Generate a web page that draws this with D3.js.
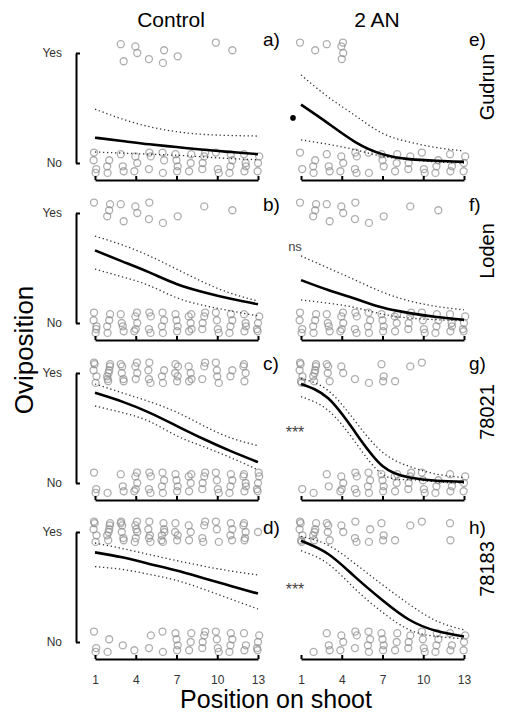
<!DOCTYPE html>
<html>
<head>
<meta charset="utf-8">
<script src="https://cdn.jsdelivr.net/npm/d3@7"></script>
<style>
  body { margin: 0; background: #fff; }
  text { font-family: "Liberation Sans", Arial, sans-serif; }
</style>
</head>
<body>
<div id="chart"></div>
<script>
// ---- data ----
const cultivars = ["Gudrun", "Loden", "78021", "78183"];
const treatments = ["Control", "2 AN"];
const panelLetters = [["a)", "e)"], ["b)", "f)"], ["c)", "g)"], ["d)", "h)"]];
const sigLabels = ["•", "ns", "***", "***"];
const sigLevels = [0.41, 0.69, 0.50, 0.52];

const positions = [1, 2, 3, 4, 5, 6, 7, 8, 9, 10, 11, 12, 13];
const tickValues = [1, 4, 7, 10, 13];
const fitPositions = [1, 3, 5, 7, 9, 11, 13];

// counts of observed "Yes" / "No" shoots per position
const yesControl = [
  [0, 0, 2, 2, 1, 2, 1, 0, 0, 1, 1, 0, 0],
  [1, 3, 2, 2, 2, 1, 1, 0, 1, 0, 1, 0, 0],
  [5, 7, 5, 4, 4, 3, 5, 4, 3, 4, 2, 4, 0],
  [5, 6, 6, 6, 5, 6, 4, 3, 4, 3, 4, 5, 1]
];
const noControl = [
  [4, 3, 3, 3, 3, 3, 4, 3, 4, 3, 4, 4, 3],
  [5, 4, 4, 5, 4, 4, 4, 5, 4, 4, 4, 4, 4],
  [3, 1, 3, 5, 4, 4, 4, 4, 4, 4, 4, 5, 5],
  [3, 2, 1, 1, 2, 2, 4, 3, 4, 4, 4, 3, 4]
];
const yesAN = [
  [1, 1, 1, 4, 0, 0, 0, 0, 0, 0, 0, 0, 0],
  [1, 3, 2, 2, 2, 1, 1, 0, 1, 0, 1, 0, 0],
  [6, 6, 4, 2, 1, 1, 3, 1, 1, 1, 0, 0, 0],
  [6, 5, 4, 2, 3, 2, 3, 1, 1, 1, 0, 2, 0]
];
const noAN = [
  [2, 3, 3, 3, 4, 2, 3, 3, 3, 3, 3, 3, 3],
  [4, 4, 4, 5, 4, 4, 4, 4, 4, 4, 4, 4, 4],
  [1, 1, 2, 4, 4, 4, 4, 4, 4, 4, 3, 3, 3],
  [0, 1, 3, 3, 3, 4, 4, 3, 3, 4, 4, 3, 3]
];

// fitted probability and 95% band at fitPositions
const fitControl = [
  [0.23, 0.20, 0.17, 0.145, 0.12, 0.10, 0.08],
  [0.66, 0.56, 0.46, 0.355, 0.28, 0.22, 0.17],
  [0.82, 0.74, 0.64, 0.52, 0.40, 0.29, 0.19],
  [0.815, 0.77, 0.71, 0.65, 0.58, 0.51, 0.44]
];
const upperControl = [
  [0.49, 0.40, 0.33, 0.285, 0.26, 0.25, 0.245],
  [0.79, 0.71, 0.61, 0.49, 0.37, 0.27, 0.20],
  [0.90, 0.82, 0.74, 0.645, 0.52, 0.41, 0.34],
  [0.90, 0.85, 0.795, 0.74, 0.69, 0.645, 0.61]
];
const lowerControl = [
  [0.10, 0.09, 0.08, 0.07, 0.055, 0.04, 0.03],
  [0.49, 0.42, 0.34, 0.23, 0.16, 0.11, 0.065],
  [0.70, 0.64, 0.56, 0.43, 0.33, 0.23, 0.12],
  [0.685, 0.66, 0.615, 0.56, 0.48, 0.39, 0.30]
];
const fitAN = [
  [0.53, 0.36, 0.19, 0.08, 0.035, 0.02, 0.01],
  [0.39, 0.30, 0.22, 0.14, 0.09, 0.055, 0.03],
  [0.90, 0.77, 0.46, 0.155, 0.05, 0.02, 0.01],
  [0.92, 0.80, 0.59, 0.38, 0.20, 0.10, 0.05]
];
const upperAN = [
  [0.80, 0.60, 0.43, 0.27, 0.19, 0.14, 0.11],
  [0.61, 0.50, 0.39, 0.28, 0.20, 0.15, 0.12],
  [0.95, 0.84, 0.56, 0.28, 0.15, 0.08, 0.05],
  [0.96, 0.88, 0.71, 0.52, 0.34, 0.19, 0.11]
];
const lowerAN = [
  [0.21, 0.17, 0.12, 0.06, 0.03, 0.01, 0.0],
  [0.21, 0.18, 0.14, 0.08, 0.045, 0.03, 0.02],
  [0.785, 0.66, 0.37, 0.08, 0.03, 0.01, 0.0],
  [0.83, 0.71, 0.48, 0.27, 0.11, 0.05, 0.03]
];

// ---- layout ----
const width = 523, height = 715;
const rowTops = [53, 213, 373, 532];
const rowH = 110;
const colRanges = [[95, 258], [301, 464]];
const jitterY = [0, -0.6, 0.55, -0.95, 0.9, -0.25, 0.3, -0.8, 0.75];
const jitterX = [0, 1.2, -1.0, 0.6, -1.4, 1.5, -0.4];

const svg = d3.select("#chart").append("svg")
  .attr("width", width)
  .attr("height", height)
  .style("background", "#fff");

const line = (x, y) => d3.line()
  .x((d, i) => x(fitPositions[i]))
  .y(d => y(d))
  .curve(d3.curveNatural);

const panels = [
  { yes: yesControl, no: noControl, fit: fitControl, up: upperControl, lo: lowerControl },
  { yes: yesAN, no: noAN, fit: fitAN, up: upperAN, lo: lowerAN }
];

cultivars.forEach((cv, r) => {
  const top = rowTops[r];
  const y = d3.scaleLinear().domain([0, 1]).range([top + rowH, top]);
  const yCat = d3.scalePoint().domain(["Yes", "No"]).range([top, top + rowH]);

  panels.forEach((p, c) => {
    const x = d3.scaleLinear().domain([1, 13]).range(colRanges[c]);
    const g = svg.append("g");

    // jittered observations
    const pts = [];
    positions.forEach((pos, k) => {
      [[p.yes[r][k], 1], [p.no[r][k], 0]].forEach(([n, v]) => {
        for (let i = 0; i < n; i++) {
          pts.push({
            cx: x(pos) + jitterX[(i + pos + v) % jitterX.length],
            cy: y(v) + jitterY[(i + pos * 2 + v) % jitterY.length] * 11
          });
        }
      });
    });
    g.selectAll("circle.obs").data(pts).join("circle")
      .attr("class", "obs")
      .attr("cx", d => d.cx)
      .attr("cy", d => d.cy)
      .attr("r", 3.5)
      .attr("fill", "none")
      .attr("stroke", "#8c8c8c")
      .attr("stroke-opacity", 0.7)
      .attr("stroke-width", 1.3);

    // confidence band (dotted) and fit
    [p.up[r], p.lo[r]].forEach(vals => {
      g.append("path").datum(vals)
        .attr("d", line(x, y))
        .attr("fill", "none")
        .attr("stroke", "#333")
        .attr("stroke-width", 1.3)
        .attr("stroke-dasharray", "1.3,2.7");
    });
    g.append("path").datum(p.fit[r])
      .attr("d", line(x, y))
      .attr("fill", "none")
      .attr("stroke", "#000")
      .attr("stroke-width", 2.6);

    // x axis with ticks pointing up
    const xAxis = g.append("g")
      .attr("transform", `translate(0,${top + rowH + 17})`)
      .call(d3.axisBottom(x).tickValues(tickValues)
        .tickSizeInner(-4).tickSizeOuter(0).tickPadding(16)
        .tickFormat(r === cultivars.length - 1 ? d3.format("d") : ""));
    xAxis.select(".domain").attr("stroke-width", 2);
    xAxis.selectAll(".tick line").attr("stroke-width", 2);
    xAxis.selectAll(".tick text")
      .attr("font-size", 12)
      .attr("fill", "#333")
      .attr("font-family", "Liberation Sans, Arial, sans-serif");

    // panel letter
    g.append("text")
      .attr("x", colRanges[c][1] + 5)
      .attr("y", [46, 211, 370, 534][r])
      .attr("font-size", 19)
      .text(panelLetters[r][c]);
  });

  // y bracket for the control column only
  const yAxis = svg.append("g")
    .attr("transform", "translate(76,0)")
    .call(d3.axisLeft(yCat).tickSizeInner(-4).tickSizeOuter(0).tickPadding(14));
  yAxis.select(".domain").attr("stroke-width", 2);
  yAxis.selectAll(".tick line").attr("stroke-width", 2);
  yAxis.selectAll(".tick text")
    .attr("font-size", 12)
    .attr("fill", "#333")
    .attr("font-family", "Liberation Sans, Arial, sans-serif");

  // significance mark in 2 AN panel
  const xr = d3.scaleLinear().domain([1, 13]).range(colRanges[1]);
  if (sigLabels[r] === "•") {
    svg.append("circle")
      .attr("cx", xr(1) - 8)
      .attr("cy", y(sigLevels[r]))
      .attr("r", 2.8)
      .attr("fill", "#000");
  } else {
    svg.append("text")
      .attr("x", xr(1) - 6)
      .attr("y", y(sigLevels[r]))
      .attr("dy", sigLabels[r] === "ns" ? "0.3em" : "0.65em")
      .attr("text-anchor", "middle")
      .attr("font-size", sigLabels[r] === "ns" ? 13 : 16)
      .attr("fill", "#444")
      .text(sigLabels[r]);
  }

  // cultivar name on the right
  svg.append("text")
    .attr("transform", `translate(494,${[87, 251, 412, 569][r]}) rotate(-90)`)
    .attr("text-anchor", "middle")
    .attr("font-size", 20)
    .text(cv);
});

// column headers
svg.selectAll("text.header").data(treatments).join("text")
  .attr("class", "header")
  .attr("x", (d, i) => [171, 377][i])
  .attr("y", 27)
  .attr("text-anchor", "middle")
  .attr("font-size", 21)
  .text(d => d);

// axis titles
svg.append("text")
  .attr("transform", "translate(33,350) rotate(-90)")
  .attr("text-anchor", "middle")
  .attr("font-size", 26)
  .text("Oviposition");

svg.append("text")
  .attr("x", 276)
  .attr("y", 708)
  .attr("text-anchor", "middle")
  .attr("font-size", 25)
  .text("Position on shoot");
</script>
</body>
</html>
